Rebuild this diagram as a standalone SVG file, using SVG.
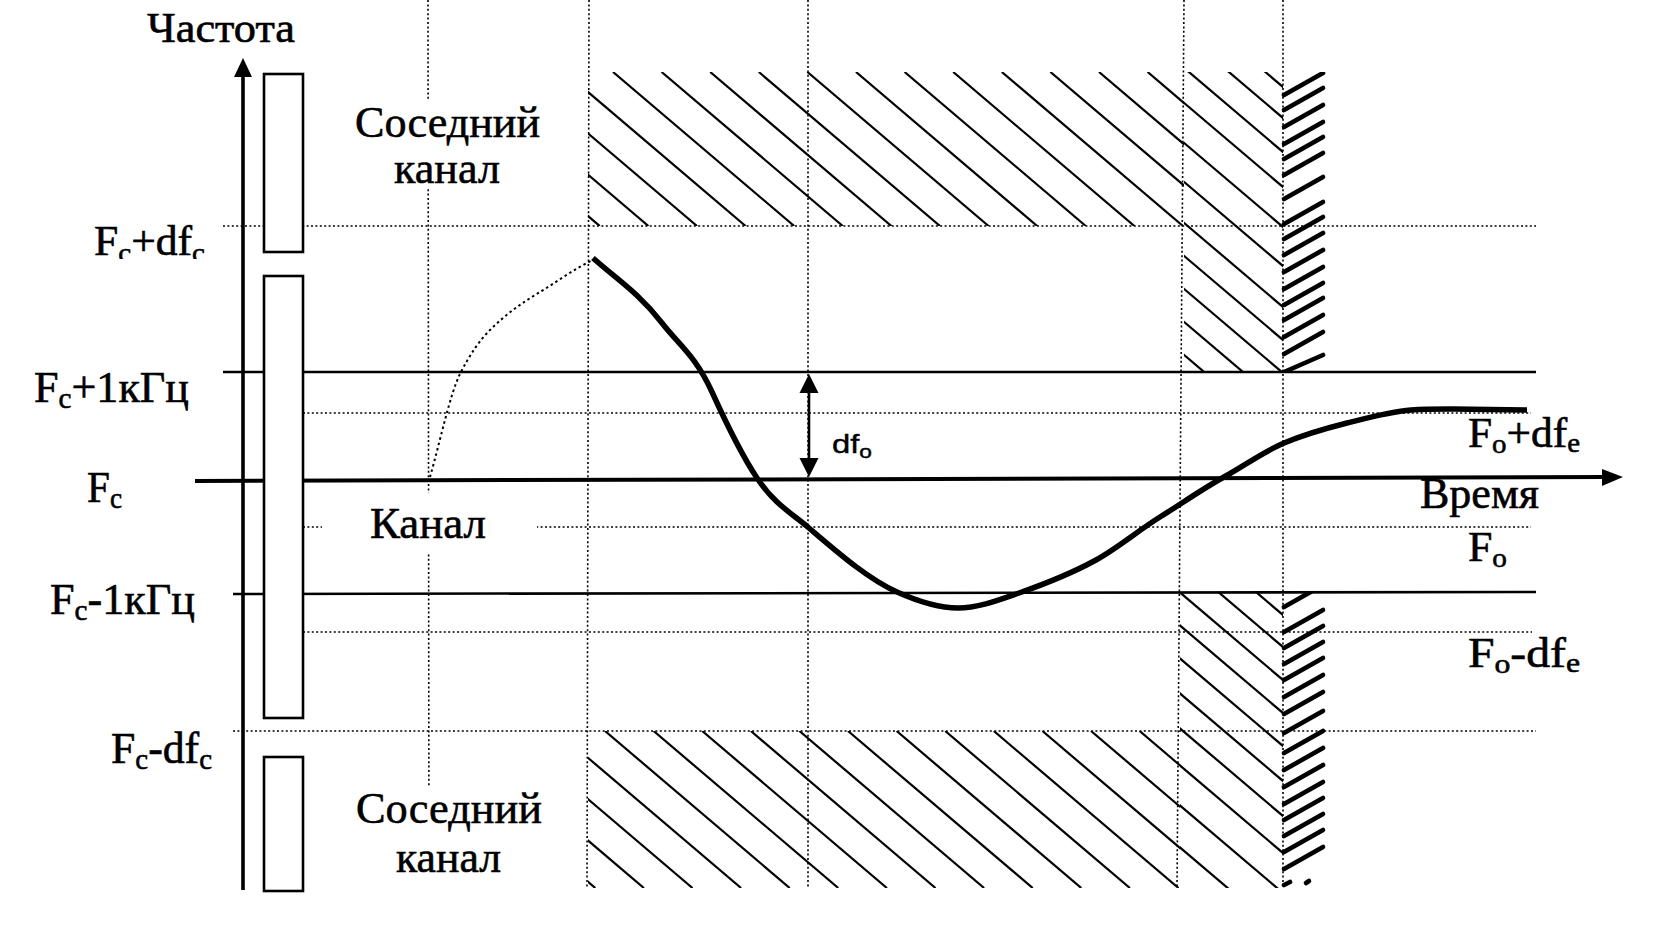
<svg xmlns="http://www.w3.org/2000/svg" width="1654" height="934" viewBox="0 0 1654 934">
<defs>
<style>
.dot{fill:none;stroke:#000;stroke-width:1.6;stroke-dasharray:2 2.4}
.dcurve{fill:none;stroke:#000;stroke-width:2;stroke-dasharray:2.5 3}
.sol{fill:none;stroke:#000;stroke-width:2.6}
.ax{fill:none;stroke:#000;stroke-width:4}
.box{fill:#fff;stroke:#000;stroke-width:2.6}
.h line{stroke:#000;stroke-width:2.2}
.ht line{stroke:#000;stroke-width:4.6;stroke-linecap:round}
.t{font-family:"Liberation Serif","Times New Roman",serif;fill:#000;stroke:#000;stroke-width:0.6}
.s{font-family:"Liberation Sans",Arial,sans-serif;fill:#000;stroke:#000;stroke-width:0.4}
.wb{fill:#fff;stroke:none}
</style>
<clipPath id="cA"><rect x="588" y="72" width="596" height="154"/></clipPath>
<clipPath id="cB"><rect x="1184" y="72" width="99" height="300"/></clipPath>
<clipPath id="cC"><rect x="1280" y="72" width="48" height="300"/></clipPath>
<clipPath id="cA2"><rect x="588" y="731" width="592" height="157"/></clipPath>
<clipPath id="cB2"><rect x="1180" y="593" width="103" height="295"/></clipPath>
<clipPath id="cC2"><rect x="1280" y="593" width="48" height="295"/></clipPath>
<clipPath id="cF"><rect x="80" y="200" width="150" height="59"/></clipPath>
</defs>
<rect width="1654" height="934" fill="#fff"/>

<g id="grid">
<line class="dot" x1="223" y1="226" x2="1536" y2="226"/>
<line class="dot" x1="303" y1="413" x2="1531" y2="413"/>
<line class="dot" x1="303" y1="527" x2="1531" y2="527"/>
<line class="dot" x1="303" y1="632" x2="1532" y2="632"/>
<line class="dot" x1="233" y1="731" x2="1536" y2="731"/>
<line class="dot" x1="428" y1="0" x2="429" y2="890"/>
<line class="dot" x1="589" y1="0" x2="587" y2="888"/>
<line class="dot" x1="808" y1="0" x2="808" y2="888"/>
<line class="dot" x1="1184" y1="0" x2="1177" y2="888"/>
<line class="dot" x1="1283" y1="0" x2="1283" y2="888"/>
</g>

<g id="hatch-top" class="h">
<g clip-path="url(#cA)">
<line x1="418.6" y1="72" x2="599.8" y2="226"/>
<line x1="467.2" y1="72" x2="648.4" y2="226"/>
<line x1="515.8" y1="72" x2="697" y2="226"/>
<line x1="564.4" y1="72" x2="745.6" y2="226"/>
<line x1="613" y1="72" x2="794.2" y2="226"/>
<line x1="661.6" y1="72" x2="842.8" y2="226"/>
<line x1="710.2" y1="72" x2="891.4" y2="226"/>
<line x1="758.8" y1="72" x2="940" y2="226"/>
<line x1="807.4" y1="72" x2="988.6" y2="226"/>
<line x1="856" y1="72" x2="1037.2" y2="226"/>
<line x1="904.6" y1="72" x2="1085.8" y2="226"/>
<line x1="953.2" y1="72" x2="1134.4" y2="226"/>
<line x1="1001.8" y1="72" x2="1183" y2="226"/>
<line x1="1050.4" y1="72" x2="1231.6" y2="226"/>
<line x1="1099" y1="72" x2="1280.2" y2="226"/>
<line x1="1147.6" y1="72" x2="1328.8" y2="226"/>
</g>
<g clip-path="url(#cB)">
<line x1="1180" y1="-0.55" x2="1290" y2="92.95"/>
<line x1="1180" y1="30.45" x2="1290" y2="123.95"/>
<line x1="1180" y1="64.45" x2="1290" y2="157.95"/>
<line x1="1180" y1="99.45" x2="1290" y2="192.95"/>
<line x1="1180" y1="139.45" x2="1290" y2="232.95"/>
<line x1="1180" y1="178.45" x2="1290" y2="271.95"/>
<line x1="1180" y1="219.45" x2="1290" y2="312.95"/>
<line x1="1180" y1="252.45" x2="1290" y2="345.95"/>
<line x1="1180" y1="285.45" x2="1290" y2="378.95"/>
<line x1="1180" y1="318.45" x2="1290" y2="411.95"/>
<line x1="1180" y1="351.45" x2="1290" y2="444.95"/>
</g>
</g>

<g id="hatch-top-thick" class="ht" clip-path="url(#cC)">
<line x1="1284" y1="95" x2="1323" y2="73"/>
<line x1="1284" y1="110" x2="1323" y2="88"/>
<line x1="1284" y1="127" x2="1323" y2="105"/>
<line x1="1284" y1="144" x2="1323" y2="122"/>
<line x1="1284" y1="159" x2="1323" y2="137"/>
<line x1="1284" y1="175" x2="1323" y2="153"/>
<line x1="1284" y1="199" x2="1323" y2="177"/>
<line x1="1284" y1="224" x2="1323" y2="202"/>
<line x1="1284" y1="239" x2="1323" y2="217"/>
<line x1="1284" y1="255" x2="1323" y2="233"/>
<line x1="1284" y1="272" x2="1323" y2="250"/>
<line x1="1284" y1="289" x2="1323" y2="267"/>
<line x1="1284" y1="305" x2="1323" y2="283"/>
<line x1="1284" y1="320" x2="1323" y2="298"/>
<line x1="1284" y1="337" x2="1323" y2="315"/>
<line x1="1284" y1="354" x2="1323" y2="332"/>
<line x1="1284" y1="372" x2="1323" y2="355"/>
</g>

<g id="hatch-bottom" class="h">
<g clip-path="url(#cA2)">
<line x1="410.6" y1="731" x2="595.3" y2="888"/>
<line x1="459.2" y1="731" x2="643.9" y2="888"/>
<line x1="507.8" y1="731" x2="692.5" y2="888"/>
<line x1="556.4" y1="731" x2="741.1" y2="888"/>
<line x1="605" y1="731" x2="789.7" y2="888"/>
<line x1="653.6" y1="731" x2="838.3" y2="888"/>
<line x1="702.2" y1="731" x2="886.9" y2="888"/>
<line x1="750.8" y1="731" x2="935.5" y2="888"/>
<line x1="799.4" y1="731" x2="984.1" y2="888"/>
<line x1="848" y1="731" x2="1032.7" y2="888"/>
<line x1="896.6" y1="731" x2="1081.3" y2="888"/>
<line x1="945.2" y1="731" x2="1129.9" y2="888"/>
<line x1="993.8" y1="731" x2="1178.5" y2="888"/>
<line x1="1042.4" y1="731" x2="1227.1" y2="888"/>
<line x1="1091" y1="731" x2="1275.7" y2="888"/>
<line x1="1139.6" y1="731" x2="1324.3" y2="888"/>
</g>
<g clip-path="url(#cB2)">
<line x1="1176" y1="524.05" x2="1290" y2="620.95"/>
<line x1="1176" y1="556.05" x2="1290" y2="652.95"/>
<line x1="1176" y1="589.05" x2="1290" y2="685.95"/>
<line x1="1176" y1="622.05" x2="1290" y2="718.95"/>
<line x1="1176" y1="655.05" x2="1290" y2="751.95"/>
<line x1="1176" y1="690.05" x2="1290" y2="786.95"/>
<line x1="1176" y1="725.05" x2="1290" y2="821.95"/>
<line x1="1176" y1="762.05" x2="1290" y2="858.95"/>
<line x1="1176" y1="802.05" x2="1290" y2="898.95"/>
<line x1="1176" y1="844.05" x2="1290" y2="940.95"/>
</g>
</g>

<g id="hatch-bottom-thick" class="ht" clip-path="url(#cC2)">
<line x1="1284" y1="607" x2="1323" y2="585"/>
<line x1="1284" y1="632" x2="1323" y2="610"/>
<line x1="1284" y1="648" x2="1323" y2="626"/>
<line x1="1284" y1="664" x2="1323" y2="642"/>
<line x1="1284" y1="680" x2="1323" y2="658"/>
<line x1="1284" y1="697" x2="1323" y2="675"/>
<line x1="1284" y1="714" x2="1323" y2="692"/>
<line x1="1284" y1="733" x2="1323" y2="711"/>
<line x1="1284" y1="753" x2="1323" y2="731"/>
<line x1="1284" y1="770" x2="1323" y2="748"/>
<line x1="1284" y1="787" x2="1323" y2="765"/>
<line x1="1284" y1="804" x2="1323" y2="782"/>
<line x1="1284" y1="820" x2="1323" y2="798"/>
<line x1="1284" y1="836" x2="1323" y2="814"/>
<line x1="1284" y1="852" x2="1323" y2="830"/>
<line x1="1284" y1="869" x2="1323" y2="847"/>
<line x1="1284" y1="885" x2="1290" y2="882"/>
<line x1="1306" y1="883" x2="1309" y2="881"/>
</g>

<g id="levels">
<line class="sol" x1="223" y1="372" x2="1536" y2="372"/>
<line class="sol" x1="233" y1="594" x2="1536" y2="592"/>
<line class="ax" x1="195" y1="481" x2="1605" y2="477"/>
<polygon points="1623,477 1602,469 1602,486" fill="#000"/>
</g>

<g id="freq-axis">
<line class="ax" x1="243" y1="74" x2="243" y2="890" style="stroke-width:3.6"/>
<polygon points="243,58 234,77 252,77" fill="#000"/>
</g>

<g id="channel-boxes">
<rect class="box" x="264" y="74" width="39" height="178"/>
<rect class="box" x="264" y="276" width="39" height="442"/>
<rect class="box" x="264" y="757" width="39" height="134"/>
</g>

<g id="curves">
<path class="dcurve" d="M430,477 C440,442 450,394 460,374 C470,354 480,340 490,330 C506.7,313.3 523.3,302 540,292 C557.7,281.4 575.3,268 593,260"/>
<path fill="none" stroke="#000" stroke-width="5.5" stroke-linejoin="round" d="M593,258 C616,278.7 639,293 662,323 C678.7,344.7 695.3,355.3 712,392 C727,425 742,455.5 757,478 C774.3,504 791.7,513.3 809,528 C838.3,552.9 867.7,578.8 897,592 C917.3,601.1 937.7,608 958,608 C978.3,608 998.7,600.1 1019,593 C1044.7,584 1070.3,574.1 1096,560 C1117.3,548.3 1138.7,530.2 1160,517 C1181.3,503.8 1202.7,488.7 1224,477 C1244,466 1264,451.4 1284,443 C1305,434.2 1326,428.3 1347,423 C1368.3,417.7 1389.7,411.7 1411,410 C1425,408.9 1439,409 1453,409 L1527,410"/>
</g>

<g id="df-arrow">
<line x1="809" y1="390" x2="809" y2="461" stroke="#000" stroke-width="2.6"/>
<polygon points="809,374 799.5,393 818.5,393" fill="#000"/>
<polygon points="809,477 799.5,458 818.5,458" fill="#000"/>
<text class="s" x="832" y="453" font-size="26" textLength="40" lengthAdjust="spacingAndGlyphs">df<tspan font-size="18" dy="5">o</tspan></text>
</g>

<g id="label-neighbor-top">
<rect class="wb" x="330" y="100" width="205" height="87"/>
<text class="t" x="355" y="137" font-size="45" textLength="185" lengthAdjust="spacingAndGlyphs">Соседний</text>
<text class="t" x="394" y="183" font-size="45" textLength="106" lengthAdjust="spacingAndGlyphs">канал</text>
</g>
<g id="label-channel">
<rect class="wb" x="322" y="493" width="215" height="60"/>
<text class="t" x="370" y="538" font-size="45" textLength="116" lengthAdjust="spacingAndGlyphs">Канал</text>
</g>
<g id="label-neighbor-bottom">
<rect class="wb" x="330" y="786" width="205" height="110"/>
<text class="t" x="356" y="823" font-size="45" textLength="186" lengthAdjust="spacingAndGlyphs">Соседний</text>
<text class="t" x="396" y="872" font-size="45" textLength="105" lengthAdjust="spacingAndGlyphs">канал</text>
</g>

<g id="axis-labels">
<text class="t" x="147" y="42" font-size="42" textLength="148" lengthAdjust="spacingAndGlyphs">Частота</text>
<text class="t" x="94" y="255" font-size="42" textLength="111" lengthAdjust="spacingAndGlyphs" clip-path="url(#cF)">F<tspan font-size="28" dy="7">c</tspan><tspan dy="-7">+df</tspan><tspan font-size="28" dy="7">c</tspan></text>
<text class="t" x="34" y="402" font-size="44" textLength="155" lengthAdjust="spacingAndGlyphs">F<tspan font-size="29" dy="6">c</tspan><tspan dy="-6">+1кГц</tspan></text>
<text class="t" x="87" y="502" font-size="44" textLength="35" lengthAdjust="spacingAndGlyphs">F<tspan font-size="29" dy="6">c</tspan></text>
<text class="t" x="50" y="614" font-size="44" textLength="145" lengthAdjust="spacingAndGlyphs">F<tspan font-size="29" dy="6">c</tspan><tspan dy="-6">-1кГц</tspan></text>
<text class="t" x="111" y="763" font-size="44" textLength="101" lengthAdjust="spacingAndGlyphs">F<tspan font-size="29" dy="6">c</tspan><tspan dy="-6">-df</tspan><tspan font-size="29" dy="6">c</tspan></text>
<text class="t" x="1468" y="447" font-size="42" textLength="112" lengthAdjust="spacingAndGlyphs">F<tspan font-size="28" dy="6">o</tspan><tspan dy="-6">+df</tspan><tspan font-size="28" dy="5">e</tspan></text>
<text class="t" x="1420" y="508" font-size="44" textLength="119" lengthAdjust="spacingAndGlyphs">Время</text>
<text class="t" x="1468" y="561" font-size="42" textLength="39" lengthAdjust="spacingAndGlyphs">F<tspan font-size="28" dy="6">o</tspan></text>
<text class="t" x="1468" y="667" font-size="42" textLength="112" lengthAdjust="spacingAndGlyphs">F<tspan font-size="28" dy="6">o</tspan><tspan dy="-6">-df</tspan><tspan font-size="28" dy="5">e</tspan></text>
</g>
</svg>
